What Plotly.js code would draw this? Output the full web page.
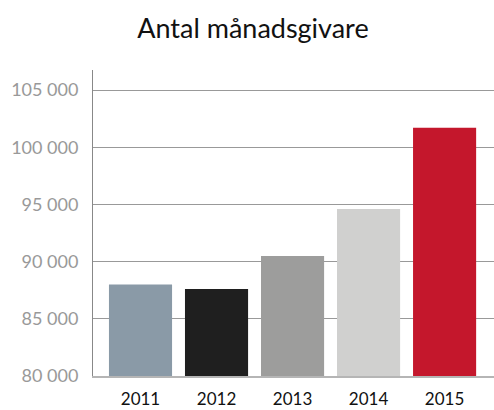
<!DOCTYPE html>
<html>
<head>
<meta charset="utf-8">
<script src="https://cdn.plot.ly/plotly-3.0.1.min.js"></script>
<style>
html,body{margin:0;padding:0;background:#fff;}
#chart{width:494px;height:410px;}
</style>
</head>
<body>
<div id="chart"></div>
<script>
var years = ['2011', '2012', '2013', '2014', '2015'];
var donors = [88000, 87600, 90500, 94600, 101700];
var barColors = ['#8a9aa7', '#1f1f1f', '#9d9d9c', '#d0d0cf', '#c4172c'];
var yTickVals = [80000, 85000, 90000, 95000, 100000, 105000];
var yTickText = ['80 000', '85 000', '90 000', '95 000', '100 000', '105 000'];
var titleText = 'Antal månadsgivare';

var trace = {
  type: 'bar',
  x: years,
  y: donors,
  marker: {color: barColors, line: {width: 0}},
  hoverinfo: 'x+y'
};

var layout = {
  width: 494,
  height: 410,
  margin: {l: 93, r: 0, t: 70, b: 34},
  paper_bgcolor: '#fff',
  plot_bgcolor: '#fff',
  bargap: 0.17,
  showlegend: false,
  font: {family: 'Lato, "Open Sans", sans-serif'},
  title: {
    text: titleText,
    font: {family: 'Lato, sans-serif', size: 27, color: '#111'},
    x: 0.512, xanchor: 'center',
    y: 0.93, yanchor: 'middle'
  },
  xaxis: {
    type: 'category',
    range: [-0.625, 4.65],
    showgrid: false,
    zeroline: false,
    showline: true,
    linecolor: '#b5b5b5',
    linewidth: 2,
    ticks: '',
    ticklabelstandoff: 7,
    tickfont: {family: 'Lato, sans-serif', size: 17, color: '#111'}
  },
  yaxis: {
    range: [80000, 106750],
    tickvals: yTickVals,
    ticktext: yTickText,
    showgrid: true,
    gridcolor: '#999',
    gridwidth: 1,
    zeroline: false,
    showline: true,
    linecolor: '#888',
    linewidth: 1,
    ticks: '',
    ticklabelstandoff: 10,
    tickfont: {family: 'Lato, sans-serif', size: 18, color: '#999'}
  }
};

Plotly.newPlot('chart', [trace], layout, {displayModeBar: false, staticPlot: true});
</script>
</body>
</html>
